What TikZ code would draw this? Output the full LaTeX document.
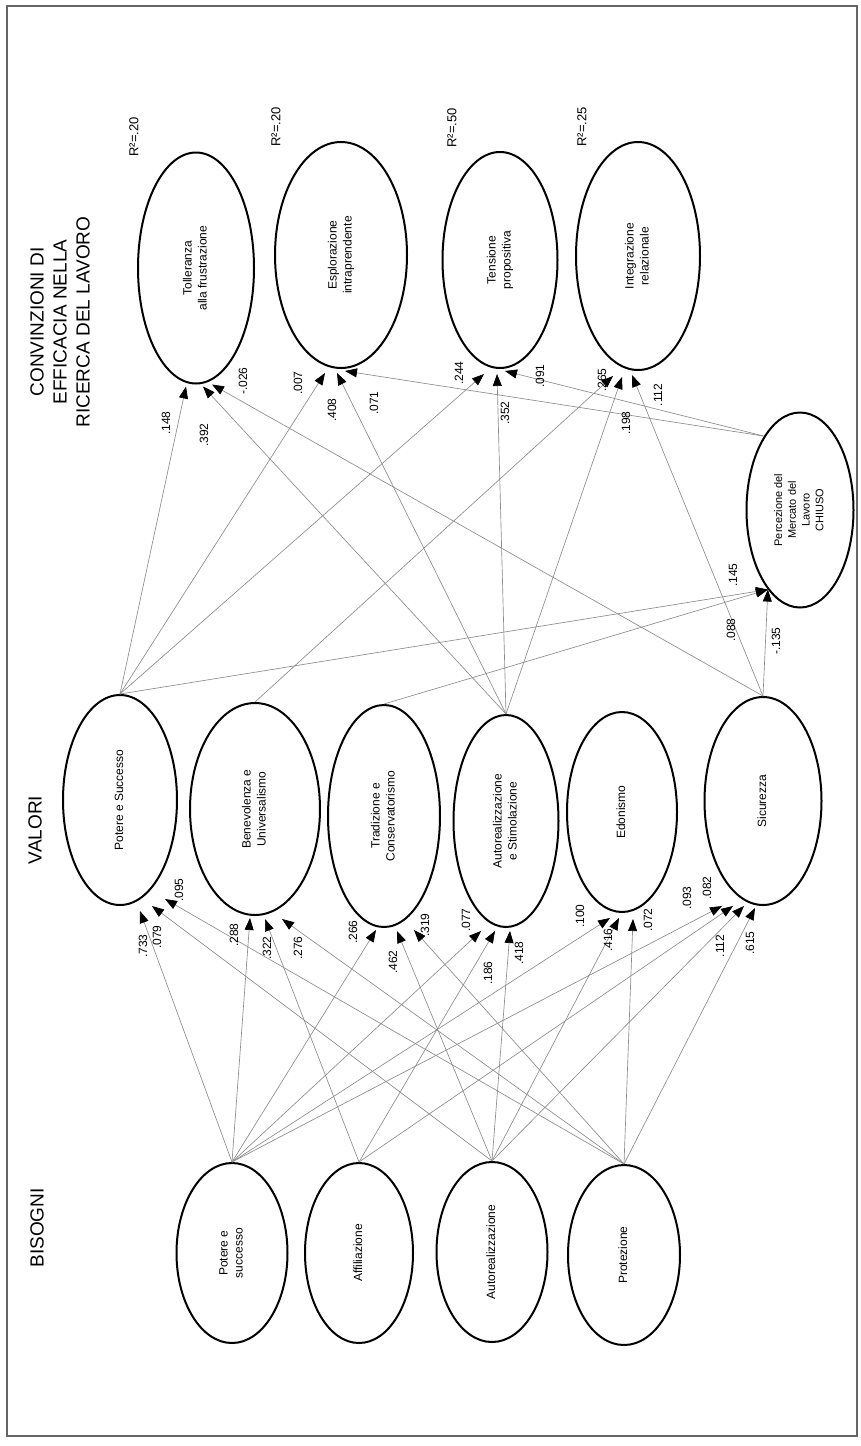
\documentclass[tikz,border=0pt]{standalone}
\usepackage{fontspec}
\setmainfont{Liberation Sans}
\usetikzlibrary{shapes.geometric,arrows.meta}
\newcommand\vtext[2][12]{\rotatebox{90}{\fontsize{#1}{#1}\selectfont\renewcommand\arraystretch{1.25}\begin{tabular}{@{}c@{}}#2\end{tabular}}}
\begin{document}
\begin{tikzpicture}[x=1pt,y=-1pt,
  latent/.style={ellipse, draw=black, line width=2pt, inner sep=0pt},
  regr/.style={draw=black!45, line width=0.65pt, -{Triangle[length=12pt,width=9pt,color=black]}},
  coef/.style={rotate=90, font=\fontsize{12}{12}\selectfont, inner sep=0pt},
  rsq/.style={rotate=90, font=\fontsize{13}{13}\selectfont, inner sep=0pt},
  hdr/.style={rotate=90, font=\fontsize{19}{23}\selectfont, align=center, inner sep=0pt}]
\useasboundingbox (0,0) rectangle (861,1446);
\fill[white] (0,0) rectangle (861,1446);
\draw[black!60, line width=2pt] (7,6) rectangle (857,1436);

% column headings
\node[hdr] (hconv) at (60,322) {CONVINZIONI DI\\EFFICACIA NELLA\\RICERCA DEL LAVORO};
\node[hdr] (hval) at (35,830) {VALORI};
\node[hdr] (hbis) at (37,1228) {BISOGNI};

% self-efficacy beliefs
\node[latent, minimum width=116pt, minimum height=231pt] (tol) at (196,268) {\vtext{Tolleranza\\alla frustrazione}};
\node[latent, minimum width=132pt, minimum height=226pt] (esp) at (341,255) {\vtext{Esplorazione\\intraprendente}};
\node[latent, minimum width=115pt, minimum height=216pt] (ten) at (500,260) {\vtext{Tensione\\propositiva}};
\node[latent, minimum width=124pt, minimum height=228pt] (int) at (638,256) {\vtext{Integrazione\\relazionale}};
\node[latent, minimum width=107pt, minimum height=195pt] (per) at (800,510) {\vtext[11]{Percezione del\\Mercato del\\Lavoro\\CHIUSO}};

\node[rsq] (r1) at (134,137) {R²=.20};
\node[rsq] (r2) at (276,127) {R²=.20};
\node[rsq] (r3) at (452,128) {R²=.50};
\node[rsq] (r4) at (582,127) {R²=.25};

% values
\node[latent, minimum width=114pt, minimum height=210pt] (ps2) at (120,800) {\vtext{Potere e Successo}};
\node[latent, minimum width=130pt, minimum height=212pt] (ben) at (255,809) {\vtext{Benevolenza e\\Universalismo}};
\node[latent, minimum width=112pt, minimum height=222pt] (tra) at (384,816) {\vtext{Tradizione e\\Conservatorismo}};
\node[latent, minimum width=105pt, minimum height=212pt] (aut2) at (506,821) {\vtext{Autorealizzazione\\e Stimolazione}};
\node[latent, minimum width=110pt, minimum height=200pt] (edo) at (622,812) {\vtext{Edonismo}};
\node[latent, minimum width=117pt, minimum height=208pt] (sic) at (763,801) {\vtext{Sicurezza}};

% needs
\node[latent, minimum width=111pt, minimum height=180pt] (ps1) at (232,1253) {\vtext{Potere e\\successo}};
\node[latent, minimum width=108pt, minimum height=180pt] (aff) at (359,1253) {\vtext{Affiliazione}};
\node[latent, minimum width=111pt, minimum height=180pt] (au1) at (492,1252) {\vtext{Autorealizzazione}};
\node[latent, minimum width=112pt, minimum height=180pt] (pro) at (624,1255) {\vtext{Protezione}};

% needs -> values
\draw[regr] (ps1.north) -- ([xshift=20pt,yshift=-5pt]ps2.south);
\draw[regr] (au1.north) -- ([xshift=32pt]ps2.south);
\draw[regr] (pro.north) -- ([xshift=45pt,yshift=7pt]ps2.south);
\draw[regr] (ps1.north) -- ([xshift=-5pt,yshift=-2pt]ben.south);
\draw[regr] (aff.north) -- ([xshift=10pt,yshift=-3pt]ben.south);
\draw[regr] (pro.north) -- ([xshift=27pt,yshift=-3pt]ben.south);
\draw[regr] (ps1.north) -- ([xshift=-8pt,yshift=-2pt]tra.south);
\draw[regr] (au1.north) -- ([xshift=13pt,yshift=-3pt]tra.south);
\draw[regr] (pro.north) -- ([xshift=30pt,yshift=-2pt]tra.south);
\draw[regr] (ps1.north) -- ([xshift=-25pt,yshift=-3pt]aut2.south);
\draw[regr] (aff.north) -- ([xshift=-11pt,yshift=-3pt]aut2.south);
\draw[regr] (au1.north) -- ([xshift=4pt,yshift=-3pt]aut2.south);
\draw[regr] (ps1.north) -- ([xshift=-12pt,yshift=-5pt]edo.south);
\draw[regr] (au1.north) -- ([xshift=-3pt,yshift=-5pt]edo.south);
\draw[regr] (pro.north) -- ([xshift=11pt,yshift=-6pt]edo.south);
\draw[regr] (ps1.north) -- ([xshift=-41pt]sic.south);
\draw[regr] (aff.north) -- ([xshift=-30pt]sic.south);
\draw[regr] (au1.north) -- ([xshift=-19pt]sic.south);
\draw[regr] (pro.north) -- ([xshift=-8pt,yshift=-2pt]sic.south);

% values -> beliefs
\draw[regr] (ps2.north) -- ([xshift=-10pt,yshift=-2pt]tol.south);
\draw[regr] (aut2.north) -- ([xshift=7pt,yshift=-2pt]tol.south);
\draw[regr] (sic.north) -- ([xshift=16pt]tol.south);
\draw[regr] (ps2.north) -- ([xshift=-16pt,yshift=-4pt]esp.south);
\draw[regr] (aut2.north) -- ([xshift=-4pt,yshift=-4pt]esp.south);
\draw[regr] (per.116) -- ([xshift=4pt,yshift=-2pt]esp.south);
\draw[regr] (ps2.north) -- ([xshift=-16pt,yshift=-5pt]ten.south);
\draw[regr] (aut2.north) -- ([xshift=-3pt,yshift=-5pt]ten.south);
\draw[regr] (per.116) -- ([xshift=5pt,yshift=-2pt]ten.south);
\draw[regr] (ben.north) -- ([xshift=-25pt,yshift=-5pt]int.south);
\draw[regr] (aut2.north) -- ([xshift=-16pt,yshift=-6pt]int.south);
\draw[regr] (sic.north) -- ([xshift=-6pt,yshift=-4pt]int.south);
\draw[regr] (ps2.north) -- (per.-112);
\draw[regr] (tra.north) -- (per.-112);
\draw[regr] (sic.north) -- (per.-112);

% coefficients, needs -> values
\node[coef] (c01) at (143,946) {.733};
\node[coef] (c02) at (157,937) {.079};
\node[coef] (c03) at (179,890) {.095};
\node[coef] (c04) at (234,935) {.288};
\node[coef] (c05) at (267,948) {.322};
\node[coef] (c06) at (298,948) {.276};
\node[coef] (c07) at (353,932) {.266};
\node[coef] (c08) at (393,962) {.462};
\node[coef] (c09) at (425,925) {.319};
\node[coef] (c10) at (466,920) {.077};
\node[coef] (c11) at (488,973) {.186};
\node[coef] (c12) at (519,953) {.418};
\node[coef] (c13) at (580,916) {.100};
\node[coef] (c14) at (608,940) {.416};
\node[coef] (c15) at (648,920) {.072};
\node[coef] (c16) at (687,898) {.093};
\node[coef] (c17) at (707,888) {.082};
\node[coef] (c18) at (720,946) {.112};
\node[coef] (c19) at (750,943) {.615};

% coefficients, values -> beliefs
\node[coef] (d01) at (166,423) {.148};
\node[coef] (d02) at (204,435) {.392};
\node[coef] (d03) at (243,381) {-.026};
\node[coef] (d04) at (298,383) {.007};
\node[coef] (d05) at (332,410) {.408};
\node[coef] (d06) at (374,403) {.071};
\node[coef] (d07) at (459,373) {.244};
\node[coef] (d08) at (505,413) {.352};
\node[coef] (d09) at (540,376) {.091};
\node[coef] (d10) at (602,380) {.265};
\node[coef] (d11) at (626,423) {.198};
\node[coef] (d12) at (658,395) {.112};
\node[coef] (d13) at (733,575) {.145};
\node[coef] (d14) at (731,630) {.088};
\node[coef] (d15) at (776,641) {-.135};
\end{tikzpicture}
\end{document}
